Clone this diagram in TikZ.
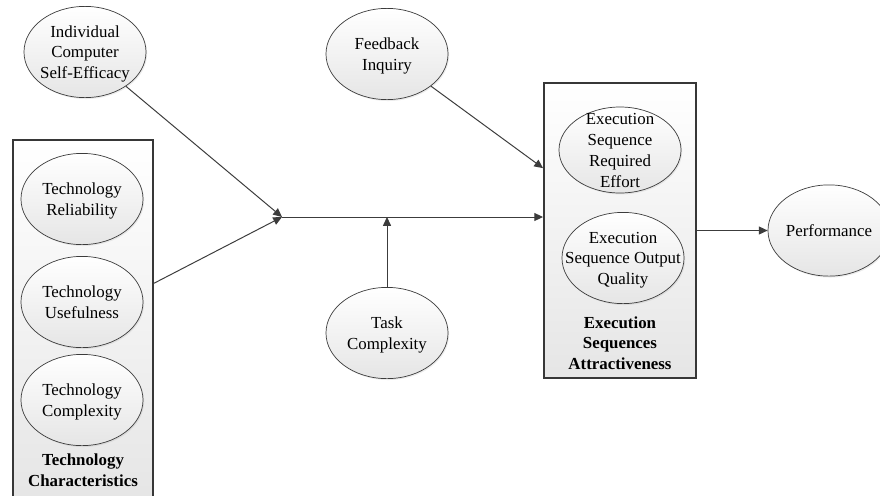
\documentclass[tikz,border=0pt]{standalone}
\usepackage{fontspec}
\setmainfont{Liberation Serif}
\usetikzlibrary{arrows.meta, calc, shapes.geometric, shadows}
\definecolor{edgegray}{RGB}{60,60,60}
\definecolor{boxline} {RGB}{55,55,55}
% centred text that does not enlarge its ellipse
\newcommand{\ctext}[1]{\makebox[0pt]{\raisebox{-0.36em}[0pt][0pt]{%
  \begin{tabular}{@{}c@{}}#1\end{tabular}}}}
\tikzset{
  construct/.style = {ellipse, draw=edgegray, line width=0.5pt, inner sep=0pt,
                      minimum width=3.05cm, minimum height=2.28cm,
                      top color=white, bottom color=black!10,
                      drop shadow={opacity=0.15, shadow xshift=0.8pt, shadow yshift=-1pt}},
  group box/.style = {rectangle, draw=boxline, line width=1.3pt, inner sep=0pt,
                      top color=white, bottom color=black!10,
                      drop shadow={opacity=0.15, shadow xshift=0.8pt, shadow yshift=-1pt}},
  group label/.style = {font=\fontsize{12}{14.6}\selectfont\bfseries, align=center},
  link/.style = {edgegray, line width=0.7pt, -{Triangle[length=2.2mm, width=2mm]}},
}

\begin{document}
\begin{tikzpicture}[x=0.025cm, y=-0.025cm, font=\fontsize{12}{14.7}\selectfont]

  \useasboundingbox[fill=white] (0,0) rectangle (880,495);

  % ── group boxes ───────────────────────────────────────────────────────────
  \node[group box, minimum width=3.5cm, minimum height=9cm] (techbox) at (83,320) {};
  \node[group box, minimum width=3.8cm, minimum height=7.375cm] (esbox) at (620,230.5) {};

  \node[group label] (techlbl) at (83,470) {Technology\\Characteristics};
  \node[group label] (eslbl) at (620,343) {Execution\\Sequences\\Attractiveness};

  % ── constructs ────────────────────────────────────────────────────────────
  \node[construct] (selfeff) at (85,52)   {\ctext{Individual\\Computer\\Self-Efficacy}};
  \node[construct] (techrel) at (82,199)  {\ctext{Technology\\Reliability}};
  \node[construct] (techuse) at (82,302)  {\ctext{Technology\\Usefulness}};
  \node[construct] (techcx)  at (82,400)  {\ctext{Technology\\Complexity}};
  \node[construct] (feedback) at (387,54) {\ctext{Feedback\\Inquiry}};
  \node[construct] (taskcx)  at (387,333) {\ctext{Task\\Complexity}};
  \node[construct, minimum height=2.15cm] (esreq) at (620,150)
    {\ctext{Execution\\Sequence\\Required\\Effort}};
  \node[construct] (esout)   at (623,258) {\ctext{Execution\\Sequence Output\\Quality}};
  \node[construct] (perf)    at (829,230.5) {\ctext{Performance}};

  % ── paths ─────────────────────────────────────────────────────────────────
  \coordinate (join) at (282,217);
  \coordinate (fbin) at ($(esbox.north west)!0.29!(esbox.south west)$);

  \draw[link] (selfeff) -- (join);
  \draw[link] (techbox) -- (join);
  \draw[link] (join) -- (join -| esbox.west);
  \draw[link] (taskcx) -- (taskcx |- join);
  \draw[link] (feedback) -- (fbin);
  \draw[link] (esbox) -- (perf);

\end{tikzpicture}
\end{document}
